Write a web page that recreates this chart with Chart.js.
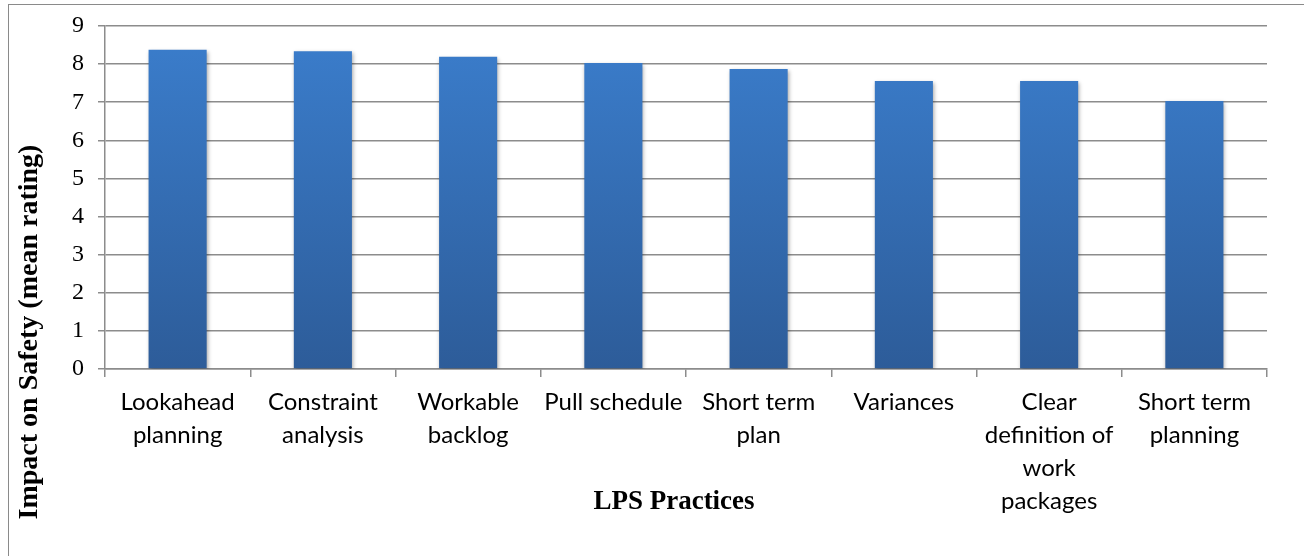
<!DOCTYPE html>
<html>
<head>
<meta charset="utf-8">
<script src="https://cdn.jsdelivr.net/npm/chart.js@4.4.1/dist/chart.umd.min.js"></script>
<style>
    html, body { margin: 0; padding: 0; background: #fff; }
    #frame {
        position: absolute; left: 8px; top: 4px; width: 1310px; height: 570px;
        border: 1.5px solid #8a8a8a; box-sizing: border-box;
    }
    #wrap { position: absolute; left: 0; top: 0; width: 1304px; height: 556px; }
</style>
</head>
<body>
<div id="frame"></div>
<div id="wrap"><canvas id="grafico" width="1304" height="556"></canvas></div>
<script>
// dados
const categorias = [
    ['Lookahead', 'planning'],
    ['Constraint', 'analysis'],
    ['Workable', 'backlog'],
    'Pull schedule',
    ['Short term', 'plan'],
    'Variances',
    ['Clear', 'definition of', 'work', 'packages'],
    ['Short term', 'planning']
];
const mediaImpacto = [8.38, 8.34, 8.19, 8.03, 7.87, 7.56, 7.56, 7.03];
const ticksY = [0, 1, 2, 3, 4, 5, 6, 7, 8, 9];

const tituloY = 'Impact on Safety (mean rating)';
const tituloX = 'LPS Practices';

const corGrade = '#8c8c8c';

// titulos dos eixos desenhados a mao (posicao do Excel)
const titulosPlugin = {
    id: 'titulos',
    afterDraw(chart) {
        const ctx = chart.ctx;
        const area = chart.chartArea;
        ctx.save();
        ctx.fillStyle = '#000';
        ctx.textAlign = 'center';
        ctx.textBaseline = 'middle';
        ctx.font = 'bold 27px "Liberation Serif"';
        ctx.fillText(tituloX, (area.left + area.right) / 2 - 12, 502);
        ctx.font = 'bold 28px "Liberation Serif"';
        ctx.translate(30, 332);
        ctx.rotate(-Math.PI / 2);
        ctx.fillText(tituloY, 0, 0);
        ctx.restore();
    }
};

// sombra leve nas barras
const sombraPlugin = {
    id: 'sombra',
    beforeDatasetsDraw(chart) {
        const ctx = chart.ctx;
        ctx.save();
        ctx.shadowColor = 'rgba(0,0,0,0.35)';
        ctx.shadowBlur = 4;
        ctx.shadowOffsetX = 1;
        ctx.shadowOffsetY = 2;
    },
    afterDatasetsDraw(chart) {
        chart.ctx.restore();
    }
};

function gradienteBarra(context) {
    const chart = context.chart;
    const area = chart.chartArea;
    if (!area) return '#3a7bc8';
    const g = chart.ctx.createLinearGradient(0, area.top, 0, area.bottom);
    g.addColorStop(0, '#3b7ecd');
    g.addColorStop(1, '#2d5c99');
    return g;
}

const ctx = document.getElementById('grafico').getContext('2d');
new Chart(ctx, {
    type: 'bar',
    data: {
        labels: categorias,
        datasets: [{
            data: mediaImpacto,
            backgroundColor: gradienteBarra,
            borderWidth: 0,
            categoryPercentage: 1,
            barPercentage: 0.4
        }]
    },
    options: {
        responsive: false,
        animation: false,
        layout: { padding: { left: 0, right: 37, top: 0, bottom: 29 } },
        plugins: {
            legend: { display: false },
            tooltip: { enabled: false }
        },
        scales: {
            x: {
                offset: true,
                grid: {
                    offset: true,
                    drawOnChartArea: false,
                    drawTicks: true,
                    tickLength: 8,
                    color: corGrade,
                    lineWidth: 1.5
                },
                border: { display: true, color: corGrade, width: 1.5 },
                ticks: {
                    autoSkip: false,
                    maxRotation: 0,
                    minRotation: 0,
                    padding: 9,
                    color: '#000',
                    font: { family: 'Lato', size: 24, lineHeight: 1.375 }
                }
            },
            y: {
                min: 0,
                max: 9,
                afterBuildTicks(axis) {
                    axis.ticks = ticksY.map(v => ({ value: v }));
                },
                grid: {
                    drawTicks: true,
                    tickLength: 7,
                    color: corGrade,
                    lineWidth: 1.5
                },
                border: { display: true, color: corGrade, width: 1.5 },
                ticks: {
                    padding: 14,
                    color: '#000',
                    font: { family: 'Liberation Serif', size: 24, lineHeight: 1 }
                },
                afterFit(axis) { axis.width = 105; }
            }
        }
    },
    plugins: [sombraPlugin, titulosPlugin]
});
</script>
</body>
</html>
